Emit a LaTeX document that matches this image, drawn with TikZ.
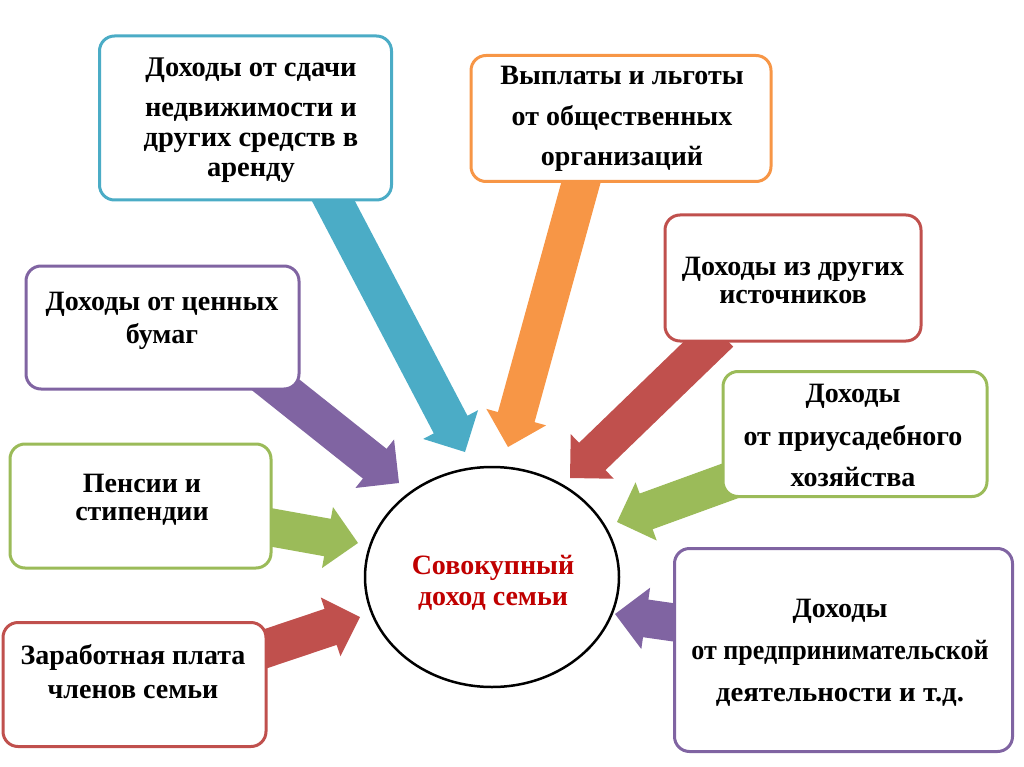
\documentclass[tikz,border=0pt]{standalone}
\usepackage{fontspec}
\setmainfont{Liberation Serif}
\usetikzlibrary{calc,shapes.geometric}
\definecolor{cblue}{HTML}{4BACC6}
\definecolor{corange}{HTML}{F79646}
\definecolor{cred}{HTML}{C0504D}
\definecolor{cgreen}{HTML}{9BBB59}
\definecolor{cpurple}{HTML}{8064A2}
\definecolor{ctitle}{HTML}{C00000}
\newcommand\blockarrow[3]{%
  \path (#3) coordinate (tmpP) ($(#3)!31pt!(#2)$) coordinate (tmpB);
  \fill[#1] ($(#2)!19pt!90:(tmpP)$) -- ($(tmpB)!19pt!90:(tmpP)$) -- ($(tmpB)!31pt!90:(tmpP)$)
    -- (tmpP) -- ($(tmpB)!31pt!-90:(tmpP)$) -- ($(tmpB)!19pt!-90:(tmpP)$)
    -- ($(#2)!19pt!-90:(tmpP)$) -- cycle;}
\newcommand\lines[4][28]{\parbox[t]{#2}{\centering\fontsize{#1}{#3}\selectfont\bfseries #4}}
\tikzset{
  box/.style={draw=#1, line width=3pt, rounded corners=15pt, fill=white, inner sep=0pt},
  txt/.style={anchor=base, inner sep=0pt, text=black},
}
\begin{document}
\begin{tikzpicture}[x=1pt,y=-1pt]
\useasboundingbox (0,0) rectangle (1024,767);
% arrow coordinates
\coordinate (a1t) at (325,185); \coordinate (a1p) at (465,452);
\coordinate (a2t) at (583,175); \coordinate (a2p) at (508,447);
\coordinate (a3t) at (262,374); \coordinate (a3p) at (399,483);
\coordinate (a4t) at (720,333); \coordinate (a4p) at (570,478);
\coordinate (a5t) at (760,470); \coordinate (a5p) at (617,522);
\coordinate (a6t) at (720,629); \coordinate (a6p) at (615,614);
\coordinate (a7t) at (230,520); \coordinate (a7p) at (358,543);
\coordinate (a8t) at (220,664); \coordinate (a8p) at (360,617);
\blockarrow{cblue}{a1t}{a1p}
\blockarrow{corange}{a2t}{a2p}
\blockarrow{cpurple}{a3t}{a3p}
\blockarrow{cred}{a4t}{a4p}
\blockarrow{cgreen}{a5t}{a5p}
\blockarrow{cpurple}{a6t}{a6p}
\blockarrow{cgreen}{a7t}{a7p}
\blockarrow{cred}{a8t}{a8p}
% boxes
\node[box=cblue, minimum width=292pt, minimum height=164pt] (b1) at (245.5,118) {};
\node[box=corange, minimum width=300pt, minimum height=126pt] (b2) at (621,118.5) {};
\node[box=cred, minimum width=256pt, minimum height=126pt] (b3) at (793,278) {};
\node[box=cgreen, minimum width=264pt, minimum height=125pt] (b4) at (855,434) {};
\node[box=cpurple, minimum width=338pt, minimum height=203pt] (b5) at (843.5,650) {};
\node[box=cpurple, minimum width=273pt, minimum height=123pt] (b6) at (162.5,327.5) {};
\node[box=cgreen, minimum width=261pt, minimum height=124pt] (b7) at (140.5,506) {};
\node[box=cred, minimum width=263pt, minimum height=124pt] (b8) at (134.5,684.5) {};
% centre
\node[draw=black, line width=2.5pt, ellipse, fill=white, minimum width=254pt, minimum height=220pt, inner sep=0pt] (c) at (492,577) {};
% texts
\node[txt] (t1) at (251,77) {\lines[28.5]{290pt}{30pt}{Доходы от сдачи\\[10pt] недвижимости и\\ других средств в\\ аренду}};
\node[txt] (t2) at (622,85) {\lines{296pt}{40.5pt}{Выплаты и льготы\\ от общественных\\ организаций}};
\node[txt] (t3) at (793,275) {\lines{254pt}{28pt}{Доходы из других\\ источников}};
\node[txt] (t4) at (853,402) {\lines{262pt}{41.5pt}{Доходы\\[1.5pt] от приусадебного\\ хозяйства}};
\node[txt] (t5) at (840,617) {\lines{336pt}{42pt}{Доходы\\ \scalebox{0.93}[1]{от предпринимательской}\\ \scalebox{1.03}[1]{деятельности и т.д.}}};
\node[txt] (t6) at (162,310) {\lines{271pt}{33pt}{Доходы от ценных\\ бумаг}};
\node[txt] (t7) at (142,492) {\lines{259pt}{28pt}{Пенсии и\\ стипендии}};
\node[txt] (t8) at (133,664) {\lines{261pt}{34pt}{Заработная плата\\ членов семьи}};
\node[txt, text=ctitle] (tc) at (493,574) {\lines{250pt}{31pt}{Совокупный\\ доход семьи}};
\end{tikzpicture}
\end{document}
